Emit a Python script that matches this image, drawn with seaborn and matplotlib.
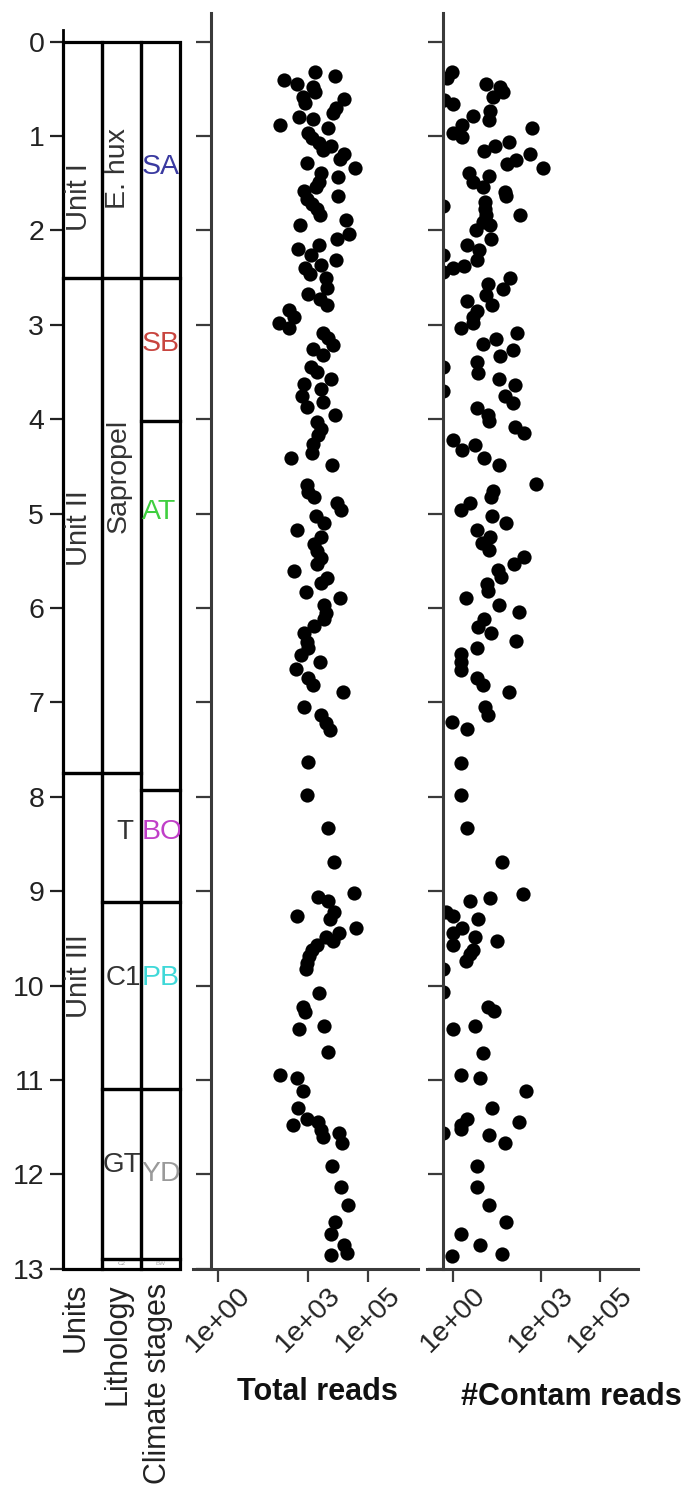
import numpy as np
import matplotlib
matplotlib.use("Agg")
import matplotlib.pyplot as plt
from matplotlib.patches import Rectangle
import seaborn as sns

sns.set_theme(style="white")
plt.rcParams['font.family'] = ['Liberation Sans', 'DejaVu Sans']

# ---------------- data ----------------
unit_names = ["Unit I", "Unit II", "Unit III"]
unit_tops = [0.0, 2.5, 7.75]
unit_bottoms = [2.5, 7.75, 13.0]
unit_label_depth = [1.65, 5.15, 9.9]

litho_names = ["E. hux", "Sapropel", "T", "C1", "GT", "C2"]
litho_tops = [0.0, 2.5, 7.75, 9.12, 11.1, 12.9]
litho_bottoms = [2.5, 7.75, 9.12, 11.1, 12.9, 13.0]
litho_label_depth = [1.35, 4.6, 8.37, 9.92, 11.9, 12.95]

climate_names = ["SA", "SB", "AT", "BO", "PB", "YD", "BW"]
climate_tops = [0.0, 2.5, 4.02, 7.93, 9.12, 11.1, 12.9]
climate_bottoms = [2.5, 4.02, 7.93, 9.12, 11.1, 12.9, 13.0]
climate_label_depth = [1.33, 3.2, 4.98, 8.37, 9.92, 12.0, 12.95]
climate_colors = ["#3a3aa0", "#c8453f", "#3fcf3f", "#c03fc8", "#3fd8d8", "#9a9a9a", "#aaaaaa"]

column_titles = ["Units", "Lithology", "Climate stages"]
depth_ticks = list(range(14))
read_ticks = [1, 1e3, 1e5]
read_tick_labels = ["1e+00", "1e+03", "1e+05"]

total_depth = [0.32, 0.37, 0.41, 0.45, 0.48, 0.53, 0.59, 0.61, 0.65, 0.70, 0.76, 0.80, 0.82, 0.88,
               0.92, 0.97, 1.02, 1.07, 1.11, 1.15, 1.19, 1.24, 1.29, 1.34, 1.39, 1.44, 1.49, 1.54,
               1.58, 1.64, 1.67, 1.72, 1.77, 1.84, 1.89, 1.94, 2.04, 2.09, 2.16, 2.20, 2.26, 2.31,
               2.37, 2.40, 2.46, 2.51, 2.61, 2.68, 2.73, 2.79, 2.84, 2.92, 2.98, 3.04, 3.09, 3.14,
               3.22, 3.26, 3.32, 3.45, 3.50, 3.58, 3.63, 3.68, 3.76, 3.82, 3.87, 3.96, 4.03, 4.10,
               4.17, 4.26, 4.36, 4.41, 4.49, 4.70, 4.77, 4.82, 4.89, 4.96, 5.03, 5.10, 5.17, 5.25,
               5.32, 5.40, 5.47, 5.53, 5.61, 5.68, 5.74, 5.83, 5.89, 5.97, 6.05, 6.12, 6.19, 6.27,
               6.36, 6.43, 6.50, 6.57, 6.65, 6.74, 6.82, 6.89, 7.05, 7.13, 7.22, 7.29, 7.63, 7.98,
               8.33, 8.69, 9.02, 9.06, 9.10, 9.22, 9.26, 9.30, 9.39, 9.44, 9.49, 9.53, 9.57, 9.62,
               9.69, 9.76, 9.83, 10.08, 10.23, 10.28, 10.43, 10.46, 10.70, 10.95, 10.98, 11.12,
               11.30, 11.41, 11.45, 11.48, 11.53, 11.56, 11.60, 11.67, 11.91, 12.13, 12.33, 12.50,
               12.63, 12.75, 12.83, 12.86]
total_log10_reads = [3.23, 3.9, 2.2, 2.63, 3.17, 3.23, 2.83, 4.2, 2.9, 3.93, 3.83, 2.7, 3.17, 2.07,
                     3.67, 3.0, 3.13, 3.37, 3.77, 3.5, 4.2, 4.07, 2.97, 4.57, 3.43, 4.0, 3.37, 3.27,
                     2.87, 4.0, 2.97, 3.13, 3.3, 3.4, 4.27, 2.73, 4.37, 3.97, 3.37, 2.67, 3.1, 3.93,
                     3.43, 2.9, 3.07, 3.6, 3.63, 3.0, 3.4, 3.63, 2.37, 2.53, 2.03, 2.37, 3.5, 3.67,
                     3.83, 3.17, 3.5, 3.1, 3.3, 3.77, 2.87, 3.43, 2.8, 3.5, 2.97, 3.9, 3.3, 3.43,
                     3.33, 3.17, 3.13, 2.43, 3.8, 2.97, 3.0, 3.2, 3.97, 4.1, 3.27, 3.53, 2.63, 3.43,
                     3.2, 3.3, 3.43, 3.3, 2.53, 3.63, 3.43, 2.93, 4.07, 3.53, 3.6, 3.53, 3.2, 2.87,
                     2.97, 3.0, 2.77, 3.4, 2.6, 3.0, 3.17, 4.17, 2.87, 3.43, 3.6, 3.73, 3.0, 2.97,
                     3.67, 3.87, 4.53, 3.35, 3.67, 3.87, 2.63, 3.73, 4.6, 4.03, 3.6, 3.83, 3.3, 3.13,
                     3.03, 2.97, 2.93, 3.37, 2.83, 2.9, 3.53, 2.7, 3.67, 2.07, 2.63, 2.83,
                     2.67, 2.97, 3.33, 2.5, 3.43, 4.03, 3.5, 4.13, 3.8, 4.1, 4.33, 3.9,
                     3.77, 4.2, 4.3, 3.77]

contam_depth = [0.32, 0.39, 0.45, 0.48, 0.53, 0.59, 0.62, 0.66, 0.74, 0.79, 0.83, 0.88, 0.92, 0.97,
                1.01, 1.06, 1.11, 1.16, 1.19, 1.25, 1.30, 1.34, 1.39, 1.43, 1.49, 1.54, 1.59, 1.64,
                1.70, 1.74, 1.77, 1.84, 1.84, 1.91, 1.94, 2.00, 2.09, 2.16, 2.21, 2.26, 2.31, 2.38,
                2.40, 2.44, 2.51, 2.57, 2.62, 2.69, 2.75, 2.79, 2.86, 2.92, 2.98, 3.04, 3.09, 3.15,
                3.20, 3.27, 3.33, 3.39, 3.45, 3.51, 3.57, 3.64, 3.70, 3.76, 3.83, 3.88, 3.96, 4.02,
                4.08, 4.15, 4.22, 4.27, 4.33, 4.41, 4.49, 4.69, 4.76, 4.82, 4.89, 4.96, 5.03, 5.10,
                5.17, 5.25, 5.31, 5.39, 5.46, 5.53, 5.60, 5.67, 5.75, 5.82, 5.89, 5.97, 6.04, 6.12,
                6.20, 6.27, 6.35, 6.43, 6.49, 6.57, 6.66, 6.74, 6.82, 6.89, 7.05, 7.13, 7.21, 7.28,
                7.64, 7.98, 8.33, 8.69, 9.03, 9.07, 9.11, 9.22, 9.26, 9.30, 9.39, 9.44, 9.49, 9.53,
                9.57, 9.62, 9.67, 9.74, 9.83, 10.07, 10.23, 10.27, 10.43, 10.46, 10.72, 10.95, 10.98,
                11.12, 11.30, 11.41, 11.45, 11.48, 11.52, 11.56, 11.58, 11.67, 11.91, 12.13, 12.33,
                12.50, 12.63, 12.75, 12.84, 12.87]
contam_log10_reads = [-0.03, -0.2, 1.12, 1.6, 1.7, 1.36, -0.3, 0.0, 1.26, 0.68, 1.22, 0.31, 2.69, 0.0,
                      0.31, 1.9, 1.43, 1.05, 2.62, 2.14, 1.84, 3.06, 0.54, 1.22, 0.68, 1.02, 1.77, 1.8,
                      1.09, -0.34, 1.09, 1.12, 2.28, 1.02, 1.26, 0.78, 1.29, 0.48, 0.88, -0.34, 0.82, 0.37,
                      0.0, -0.34, 1.94, 1.19, 1.7, 1.12, 0.48, 1.33, 0.82, 0.68, 0.68, 0.27, 2.18, 1.46,
                      1.02, 2.04, 1.6, 0.82, -0.34, 0.85, 1.56, 2.11, -0.34, 1.77, 2.04, 0.82, 1.19, 1.22,
                      2.11, 2.41, 0.0, 0.75, 0.3, 1.05, 1.56, 2.82, 1.36, 1.29, 0.58, 0.27, 1.33, 1.8,
                      0.82, 1.26, 0.99, 1.22, 2.41, 2.07, 1.53, 1.63, 1.16, 1.19, 0.44, 1.56, 2.24, 1.05,
                      0.85, 1.29, 2.14, 0.82, 0.27, 0.27, 0.27, 0.82, 1.02, 1.9, 1.09, 1.19, -0.03, 0.48,
                      0.27, 0.27, 0.48, 1.67, 2.37, 1.26, 0.58, -0.24, 0.0, 0.85, 0.31, 0.0, 0.75, 1.5,
                      0.0, 0.68, 0.58, 0.44, -0.34, -0.34, 1.19, 1.39, 0.75, 0.0, 1.02, 0.27, 0.92,
                      2.48, 1.33, 0.48, 2.24, 0.27, 0.27, -0.34, 1.22, 1.77, 0.82, 0.82, 1.22,
                      1.8, 0.27, 0.92, 1.67, -0.03]

# ---------------- layout helpers ----------------
W, H = 694, 1497
fig = plt.figure(figsize=(W / 100, H / 100), dpi=100)


def px_axes(x0, x1, ytop, ybot):
    return fig.add_axes([x0 / W, 1 - ybot / H, (x1 - x0) / W, (ybot - ytop) / H])


def depth_px(d):
    return 41.5 + 94.4 * d


AX_COL = "#3a3a3a"

# ---------------- stratigraphic column ----------------
axs = px_axes(63, 180, depth_px(-0.12), depth_px(13))
axs.set_xlim(0, 3)
axs.set_ylim(13, -0.12)
for i, (tops, bots) in enumerate([(unit_tops, unit_bottoms),
                                   (litho_tops, litho_bottoms),
                                   (climate_tops, climate_bottoms)]):
    tops = np.array(tops)
    bots = np.array(bots)
    axs.bar(x=np.full(len(tops), i + 0.5), height=bots - tops, bottom=tops, width=1.0,
            fill=False, edgecolor="black", linewidth=2.3, clip_on=False)

for name, d in zip(unit_names, unit_label_depth):
    axs.text(0.42, d, name, rotation=90, ha="center", va="center", fontsize=21, color="#333333")
for k, (name, d) in enumerate(zip(litho_names, litho_label_depth)):
    if k < 2:
        axs.text(1.42, d, name, rotation=90, ha="center", va="center", fontsize=20.5, color="#333333")
    elif k < 5:
        x = 1.8 if name == "T" else 2.0
        axs.text(x, d, name, ha="right", va="center", fontsize=20, color="#333333")
    else:
        axs.text(1.5, d, name, ha="center", va="center", fontsize=4.5, color="#999999")
for k, (name, d, c) in enumerate(zip(climate_names, climate_label_depth, climate_colors)):
    if k < 6:
        axs.text(2.02, d, name, ha="left", va="center", fontsize=20.5, color=c, clip_on=True)
    else:
        axs.text(2.5, d, name, ha="center", va="center", fontsize=4.5, color=c)

for sp in ["top", "right", "bottom"]:
    axs.spines[sp].set_visible(False)
axs.spines["left"].set_color("black")
axs.spines["left"].set_linewidth(2.0)
axs.set_xticks([])
axs.set_yticks(depth_ticks)
axs.set_yticklabels([str(t) for t in depth_ticks])
axs.tick_params(axis="y", left=True, direction="out", length=9.5, width=1.6, pad=4,
                labelsize=20.5, colors="#222222")
axs.set_ylabel("")

bot_frac = -(1283 - depth_px(13)) / (depth_px(13) - depth_px(-0.12))
for x, t in zip([0.33, 1.41, 2.44], column_titles):
    axs.text(x, bot_frac, t, transform=axs.get_xaxis_transform(), rotation=90,
             ha="center", va="top", fontsize=22, color="#222222")

# ---------------- scatter panels ----------------
def make_panel(x0, x1, lo, hi, spine_at, depth, logvals, label, label_xy, clip):
    ax = px_axes(x0, x1, depth_px(-0.3), depth_px(13))
    sns.scatterplot(x=10 ** np.array(logvals), y=depth, ax=ax, color="black", s=105,
                    linewidth=0, legend=False)
    ax.set_xscale("log")
    ax.set_xlim(10 ** lo, 10 ** hi)
    ax.set_ylim(13, -0.3)
    ax.spines["left"].set_position(("data", 10 ** spine_at))
    for sp in ["top", "right"]:
        ax.spines[sp].set_visible(False)
    for sp in ["left", "bottom"]:
        ax.spines[sp].set_color(AX_COL)
        ax.spines[sp].set_linewidth(2.2)
    ax.set_yticks(depth_ticks)
    ax.set_yticklabels([])
    ax.set_xticks(read_ticks)
    ax.set_xticklabels(read_tick_labels)
    ax.set_xticks([], minor=True)
    ax.tick_params(axis="y", left=True, direction="out", length=11, width=1.6, color=AX_COL)
    ax.tick_params(axis="x", bottom=True, direction="out", length=9, width=1.6, color=AX_COL,
                   pad=1, labelsize=20.5, labelcolor="#222222")
    for lab in ax.get_xticklabels():
        lab.set_rotation(45)
        lab.set_ha("center")
    ax.set_xlabel("")
    ax.set_ylabel("")
    ax.text(label_xy[0], label_xy[1], label, transform=ax.transAxes, ha="center", va="center",
            fontsize=22, fontweight="bold", color="#111111")
    if clip:
        frac = (spine_at - lo) / (hi - lo)
        rect = Rectangle((frac, -0.05), 1 - frac, 1.1, transform=ax.transAxes)
        for coll in ax.collections:
            coll.set_clip_path(rect)
    return ax


pan_h = depth_px(13) - depth_px(-0.3)
make_panel(193, 418, -0.833, 6.667, -0.233, total_depth, total_log10_reads, "Total reads",
           ((317 - 193) / 225, -(1392 - depth_px(13)) / pan_h), False)
make_panel(427, 638, -0.884, 6.29, -0.34, contam_depth, contam_log10_reads, "#Contam reads",
           ((571 - 427) / 211, -(1397 - depth_px(13)) / pan_h), True)

fig.savefig("out.png", dpi=100, facecolor="white")
